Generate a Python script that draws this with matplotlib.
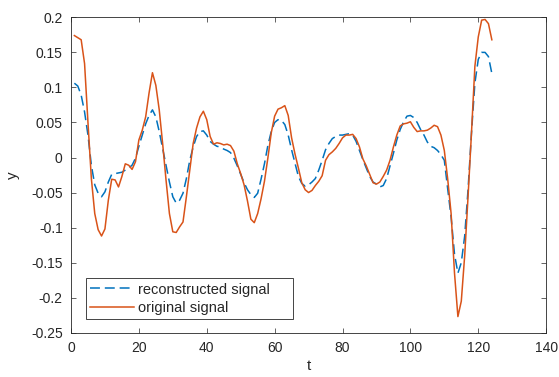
import numpy as np
import matplotlib
matplotlib.use('Agg')
import matplotlib.pyplot as plt

plt.rcParams['font.family'] = ['Liberation Sans', 'DejaVu Sans']
plt.rcParams['axes.unicode_minus'] = False

# sample index
t = np.arange(1, 125)

# original signal
original = [
    0.174, 0.171, 0.168, 0.134, 0.050, -0.030, -0.080, -0.103, -0.112, -0.102,
    -0.061, -0.031, -0.032, -0.042, -0.027, -0.009, -0.011, -0.017, -0.006, 0.025,
    0.039, 0.058, 0.092, 0.121, 0.103, 0.068, 0.020, -0.032, -0.080, -0.106,
    -0.107, -0.099, -0.092, -0.056, -0.018, 0.020, 0.042, 0.058, 0.066, 0.054,
    0.030, 0.019, 0.021, 0.020, 0.018, 0.019, 0.017, 0.009, -0.009, -0.023,
    -0.039, -0.062, -0.088, -0.093, -0.080, -0.059, -0.034, -0.001, 0.035, 0.059,
    0.069, 0.071, 0.074, 0.060, 0.028, 0.005, -0.015, -0.036, -0.046, -0.050,
    -0.047, -0.040, -0.034, -0.026, -0.004, 0.004, 0.008, 0.013, 0.020, 0.028,
    0.032, 0.032, 0.033, 0.027, 0.015, -0.002, -0.012, -0.024, -0.036, -0.038,
    -0.035, -0.027, -0.018, -0.004, 0.015, 0.032, 0.045, 0.048, 0.049, 0.051,
    0.043, 0.037, 0.038, 0.038, 0.039, 0.042, 0.046, 0.044, 0.032, 0.010,
    -0.031, -0.080, -0.165, -0.227, -0.205, -0.140, -0.055, 0.035, 0.130, 0.172,
    0.196, 0.197, 0.191, 0.168,
]

# reconstructed signal
reconstructed = [
    0.106, 0.102, 0.089, 0.065, 0.032, -0.011, -0.039, -0.051, -0.056, -0.049,
    -0.035, -0.024, -0.023, -0.022, -0.021, -0.018, -0.015, -0.011, -0.001, 0.016,
    0.032, 0.048, 0.060, 0.068, 0.058, 0.037, 0.013, -0.011, -0.035, -0.056,
    -0.065, -0.061, -0.051, -0.030, -0.004, 0.015, 0.030, 0.037, 0.038, 0.032,
    0.023, 0.019, 0.016, 0.015, 0.012, 0.010, 0.007, -0.001, -0.012, -0.024,
    -0.036, -0.046, -0.053, -0.057, -0.051, -0.031, -0.009, 0.017, 0.037, 0.050,
    0.054, 0.053, 0.047, 0.032, 0.011, -0.008, -0.027, -0.037, -0.041, -0.039,
    -0.035, -0.030, -0.018, -0.004, 0.011, 0.020, 0.027, 0.030, 0.032, 0.032,
    0.033, 0.034, 0.032, 0.023, 0.010, -0.003, -0.015, -0.027, -0.035, -0.038,
    -0.042, -0.040, -0.030, -0.012, 0.006, 0.025, 0.040, 0.051, 0.059, 0.060,
    0.057, 0.050, 0.040, 0.032, 0.022, 0.016, 0.014, 0.010, 0.004, -0.004,
    -0.045, -0.085, -0.138, -0.165, -0.150, -0.112, -0.045, 0.035, 0.106, 0.140,
    0.150, 0.150, 0.144, 0.120,
]

xticks = [0, 20, 40, 60, 80, 100, 120, 140]
yticks = [-0.25, -0.2, -0.15, -0.1, -0.05, 0, 0.05, 0.1, 0.15, 0.2]
ytick_labels = ['-0.25', '-0.2', '-0.15', '-0.1', '-0.05', '0', '0.05', '0.1', '0.15', '0.2']

axis_col = '#262626'

fig = plt.figure(figsize=(5.59, 3.77), dpi=100)
ax = fig.add_axes([0.127, 0.1175, 0.85, 0.8365])

ax.plot(t, reconstructed, color='#0072BD', lw=1.1, dashes=(6.5, 3.2),
        label='reconstructed signal')
ax.plot(t, original, color='#D95319', lw=1.1, label='original signal')

ax.set_xlim(0, 140)
ax.set_ylim(-0.25, 0.2)
ax.set_xticks(xticks)
ax.set_yticks(yticks)
ax.set_yticklabels(ytick_labels)

ax.tick_params(direction='in', top=True, right=True, length=3.5, width=0.5,
               colors=axis_col, labelsize=10, pad=6)
for sp in ax.spines.values():
    sp.set_color(axis_col)
    sp.set_linewidth(0.6)

ax.set_xlabel('t', fontsize=11, color=axis_col, labelpad=3)
ax.set_ylabel('y', fontsize=11, color=axis_col, labelpad=8)

# legend box stretched wider than its text, anchored bottom-left
leg = ax.legend(loc='lower left', bbox_to_anchor=(0.031, 0.0425, 0.436, 0.2),
                mode='expand', borderaxespad=0, fontsize=10.5, handlelength=3.0,
                handletextpad=0.3, borderpad=0.3, labelspacing=0.3,
                fancybox=False, framealpha=1)
leg.get_frame().set_edgecolor(axis_col)
leg.get_frame().set_linewidth(0.6)
for txt in leg.get_texts():
    txt.set_color(axis_col)

fig.savefig('out.png', dpi=100)
